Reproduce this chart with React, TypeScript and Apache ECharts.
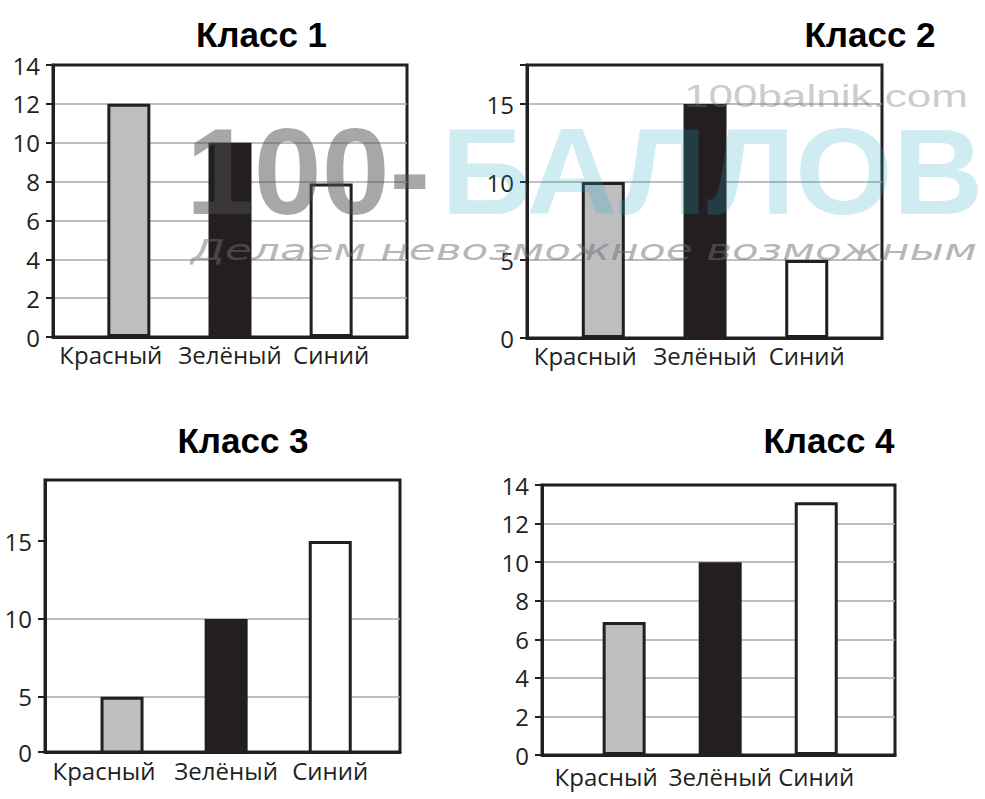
import React, { useEffect, useRef } from 'react';
import * as echarts from 'echarts';

// ---------- data ----------
const CATEGORIES = ['Красный', 'Зелёный', 'Синий'];
const TITLES = ['Класс 1', 'Класс 2', 'Класс 3', 'Класс 4'];
const CLASS_1 = [12, 10, 7.9];
const CLASS_2 = [10, 15, 5];
const CLASS_3 = [5, 10, 15];
const CLASS_4 = [6.9, 10, 13.1];
const Y_TICKS_1 = [0, 2, 4, 6, 8, 10, 12, 14];
const Y_TICKS_2 = [0, 5, 10, 15];
const Y_TICKS_3 = [0, 5, 10, 15];
const Y_TICKS_4 = [0, 2, 4, 6, 8, 10, 12, 14];
const WATERMARK = ['100-', 'БАЛЛОВ', '100balnik.com', 'Делаем невозможное возможным'];

// ---------- styles / layout ----------
const INK = '#231f20';
const FILLS = ['#bcbec0', '#231f20', '#ffffff'];
const GRID_LINE = '#a7a9ac';
const LABEL_FONT = '"Open Sans", sans-serif';
const LABEL_SIZE = 24;

const PANELS = [
  { values: CLASS_1, ticks: Y_TICKS_1, grid: { left: 53, top: 65, width: 354, height: 272 }, xr: [-0.75, 2.75], y: { min: 0, max: 14 }, floor: 0, top: true, title: [261.5, 34.5], margin: 5 },
  { values: CLASS_2, ticks: Y_TICKS_2, grid: { left: 527, top: 65, width: 355, height: 273 }, xr: [-0.75, 2.74], y: { min: 0, max: 17.5 }, floor: 0, top: true, title: [870, 34.5], margin: 5 },
  { values: CLASS_3, ticks: Y_TICKS_3, grid: { left: 45, top: 480, width: 355, height: 272 }, xr: [-0.74, 2.67], y: { min: 1.45, max: 18.92 }, floor: 1.45, top: false, title: [243, 440], margin: 6 },
  { values: CLASS_4, ticks: Y_TICKS_4, grid: { left: 542, top: 485, width: 353, height: 270 }, xr: [-0.855, 2.82], y: { min: 0, max: 14 }, floor: 0, top: true, title: [829, 440.5], margin: 9 },
];

function buildOption() {
  const grid: any[] = [];
  const xAxis: any[] = [];
  const yAxis: any[] = [];
  const series: any[] = [];
  const graphic: any[] = [];

  PANELS.forEach((p, i) => {
    grid.push({
      ...p.grid,
      show: true,
      borderColor: INK,
      borderWidth: 3,
      backgroundColor: 'transparent',
      containLabel: false,
      outerBoundsMode: 'none',
    });
    xAxis.push({
      type: 'value',
      gridIndex: i,
      min: p.xr[0],
      max: p.xr[1],
      axisLine: { show: true, onZero: false, lineStyle: { color: INK, width: 3 } },
      axisTick: { show: false },
      splitLine: { show: false },
      axisLabel: {
        customValues: [0, 1, 2],
        margin: p.margin,
        fontFamily: LABEL_FONT,
        fontSize: LABEL_SIZE,
        color: INK,
        formatter: (v: number) => {
          const c = CATEGORIES[Math.round(v)];
          return Math.round(v) === 0 ? `{shift|${c}}` : c;
        },
        rich: {
          shift: { padding: [0, 36, 0, 0], fontFamily: LABEL_FONT, fontSize: LABEL_SIZE, color: INK },
        },
      },
    });
    const tickVals = p.ticks.map((t) => Math.max(t, p.floor));
    yAxis.push({
      type: 'value',
      gridIndex: i,
      min: p.y.min,
      max: p.y.max,
      axisLine: { show: true, onZero: false, lineStyle: { color: INK, width: 3 } },
      axisTick: {
        show: true,
        length: 7,
        lineStyle: { color: INK, width: 2 },
        customValues: p.top && tickVals[tickVals.length - 1] !== p.y.max ? [...tickVals, p.y.max] : tickVals,
      },
      splitLine: { show: true, showMinLine: false, showMaxLine: false, lineStyle: { color: GRID_LINE, width: 1.5 } },
      axisLabel: {
        customValues: tickVals,
        margin: 13,
        fontFamily: LABEL_FONT,
        fontSize: LABEL_SIZE,
        color: INK,
        formatter: (v: number) => (v <= p.floor ? '0' : String(v)),
      },
    });
    series.push({
      type: 'bar',
      xAxisIndex: i,
      yAxisIndex: i,
      barWidth: 43,
      clip: true,
      data: p.values.map((v, j) => ({
        value: [j, v],
        itemStyle: { color: FILLS[j] },
      })),
      itemStyle: { borderColor: INK, borderWidth: 3 },
    });
    graphic.push({
      type: 'text',
      x: p.title[0],
      y: p.title[1],
      style: {
        text: TITLES[i],
        font: 'bold 35px "Liberation Sans", Arial, sans-serif',
        fill: '#000',
        textAlign: 'center',
        textVerticalAlign: 'middle',
      },
    });
  });

  // watermark overlay
  graphic.push(
    {
      type: 'text', x: 186, y: 172, z: 50, silent: true,
      style: { text: WATERMARK[0], font: 'bold 122px "Liberation Sans", sans-serif', fill: 'rgba(80,80,80,0.5)', textAlign: 'left', textVerticalAlign: 'middle' },
    },
    {
      type: 'text', x: 441, y: 172, z: 50, silent: true, scaleX: 1.03,
      style: { text: WATERMARK[1], font: 'bold 122px "Liberation Sans", sans-serif', fill: 'rgba(40,170,200,0.22)', textAlign: 'left', textVerticalAlign: 'middle' },
    },
    {
      type: 'text', x: 684, y: 96, z: 50, silent: true, scaleX: 1.42,
      style: { text: WATERMARK[2], font: '31px "Liberation Sans", sans-serif', fill: 'rgba(120,120,120,0.4)', textAlign: 'left', textVerticalAlign: 'middle' },
    },
    {
      type: 'text', x: 191, y: 250, z: 50, silent: true, scaleX: 1.56,
      style: { text: WATERMARK[3], font: 'italic 28px "DejaVu Sans", sans-serif', fill: 'rgba(110,110,110,0.5)', textAlign: 'left', textVerticalAlign: 'middle' },
    }
  );

  return {
    animation: false,
    backgroundColor: '#ffffff',
    grid,
    xAxis,
    yAxis,
    series,
    graphic: { elements: graphic },
  };
}

export default function App() {
  const ref = useRef<HTMLDivElement>(null);
  useEffect(() => {
    if (!ref.current) return;
    const chart = echarts.init(ref.current, undefined, { renderer: 'svg' });
    chart.setOption(buildOption() as any);
    return () => chart.dispose();
  }, []);
  return (
    <div
      ref={ref}
      style={{ position: 'fixed', left: 0, top: 0, width: 985, height: 799, background: '#fff' }}
    />
  );
}
